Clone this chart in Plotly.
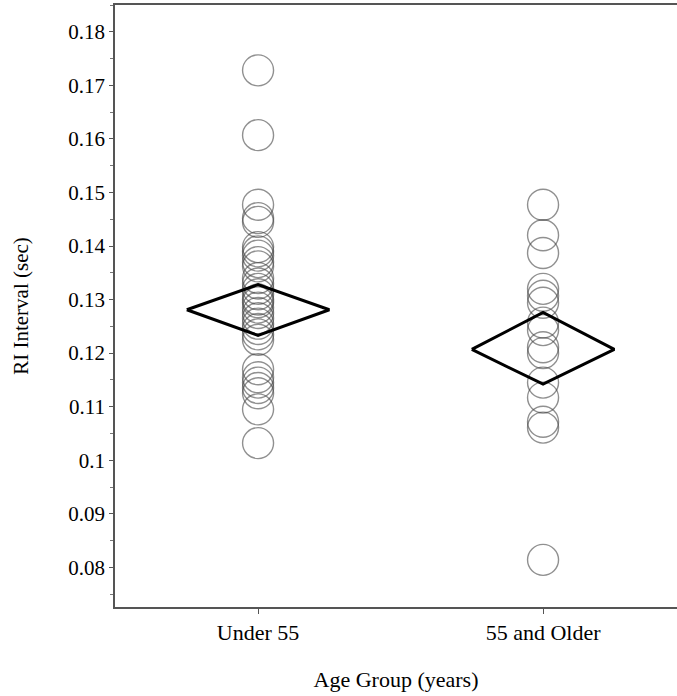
import plotly.graph_objects as go

categories = ["Under 55", "55 and Older"]
under55 = [0.1728, 0.1607, 0.1477, 0.1452, 0.1445, 0.1398, 0.1390, 0.1382, 0.1370,
           0.1362, 0.1340, 0.1330, 0.1320, 0.1310, 0.1300, 0.1295, 0.1285, 0.1275,
           0.1265, 0.1255, 0.1245, 0.1235, 0.1225, 0.1170, 0.1155, 0.1145, 0.1135,
           0.1125, 0.1095, 0.1032]
older55 = [0.1477, 0.1420, 0.1387, 0.1320, 0.1307, 0.1294, 0.1257, 0.1243, 0.1211,
           0.1200, 0.1145, 0.1117, 0.1072, 0.1061, 0.0814]
means = [0.1281, 0.1207]
ci_low = [0.1233, 0.1142]
ci_high = [0.1328, 0.1276]
ytick_vals = [0.08, 0.09, 0.10, 0.11, 0.12, 0.13, 0.14, 0.15, 0.16, 0.17, 0.18]
ytick_text = ["0.08", "0.09", "0.1", "0.11", "0.12", "0.13", "0.14", "0.15", "0.16", "0.17", "0.18"]

FONT = "Liberation Serif"
fig = go.Figure()

for i, vals in enumerate([under55, older55]):
    fig.add_trace(go.Scatter(
        x=[i] * len(vals), y=vals, mode="markers",
        marker=dict(symbol="circle", size=31, color="rgba(0,0,0,0)",
                    line=dict(color="rgba(70,70,70,0.6)", width=1.4)),
        showlegend=False, hoverinfo="y"))

half = 0.25
for i in range(len(categories)):
    fig.add_trace(go.Scatter(
        x=[i - half, i, i + half, i, i - half],
        y=[means[i], ci_high[i], means[i], ci_low[i], means[i]],
        mode="lines", line=dict(color="black", width=3),
        showlegend=False, hoverinfo="skip"))

fig.update_layout(
    width=677, height=696,
    margin=dict(l=115, r=0, t=5, b=89),
    paper_bgcolor="white", plot_bgcolor="white",
    font=dict(family=FONT, size=22, color="black"),
    showlegend=False,
)
fig.update_xaxes(
    range=[-0.502, 1.47], tickvals=[0, 1], ticktext=categories,
    showline=True, linecolor="#555", linewidth=1.5, mirror=True,
    ticks="outside", ticklen=5, tickcolor="#555",
    showgrid=False, zeroline=False,
    tickfont=dict(family=FONT, size=22),
    title=dict(text="Age Group (years)", font=dict(family=FONT, size=22), standoff=27),
)
fig.update_yaxes(
    range=[0.0726, 0.1850], tickvals=ytick_vals, ticktext=ytick_text,
    showline=True, linecolor="#555", linewidth=1.5,
    ticks="outside", ticklen=4, tickcolor="#555",
    minor=dict(dtick=0.005, tick0=0.08, ticks="outside", ticklen=3, tickcolor="#777"),
    showgrid=False, zeroline=False,
    tickfont=dict(family=FONT, size=21),
    title=dict(text="RI Interval (sec)", font=dict(family=FONT, size=21), standoff=34),
)

fig.write_html("out.html")
